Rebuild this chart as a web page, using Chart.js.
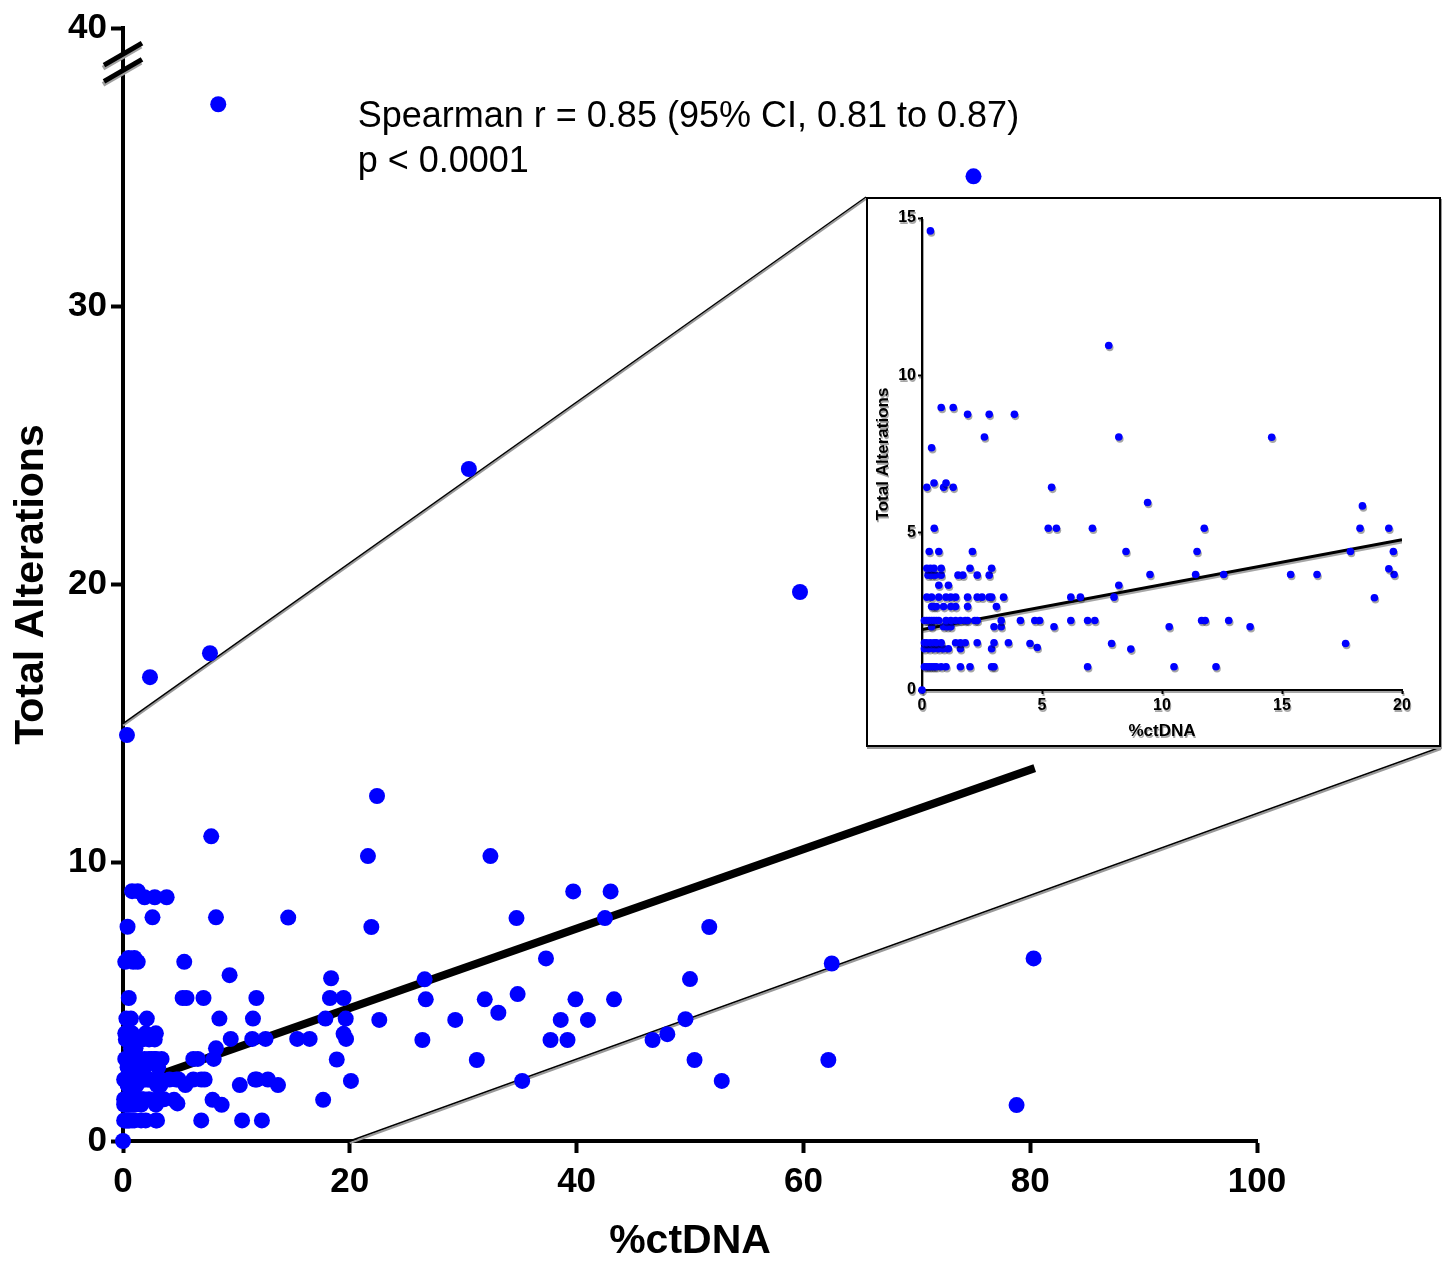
<!DOCTYPE html>
<html>
<head>
<meta charset="utf-8">
<script src="https://cdn.jsdelivr.net/npm/chart.js@4.4.1/dist/chart.umd.min.js"></script>
<style>
  body { margin: 0; background: #fff; }
  #wrap { position: relative; width: 1450px; height: 1262px; }
  #main { position: absolute; left: 0; top: 0; }
  #zoomBox {
    position: absolute; left: 866px; top: 197px; width: 575px; height: 550px;
    box-sizing: border-box; border: 2px solid #000; box-shadow: 1px 2px 0 #9a9a9a; background: #fff;
  }
  #inset { display: block; }
</style>
</head>
<body>
<div id="wrap">
  <canvas id="main" width="1450" height="1262"></canvas>
  <div id="zoomBox"><canvas id="inset" width="571" height="546"></canvas></div>
</div>
<script>
// points that fall inside the zoomed window (0-20 %ctDNA, 0-15 alterations)
const zoomX = [
  0,
  0.1, 0.2, 0.3, 0.4, 0.5, 0.6, 0.8, 1.0, 1.6, 2.0, 2.9, 3.0, 6.9, 10.5, 12.25,
  0.1, 0.3, 0.5, 0.7, 0.9, 1.1, 1.6, 2.9, 4.8, 8.7,
  0.1, 0.2, 0.35, 0.5, 0.6, 0.8, 1.4, 1.6, 1.8, 2.3, 3.0, 3.6, 4.5, 7.9, 17.65,
  0.4, 0.9, 1.05, 1.2, 3.0, 3.3, 5.5, 10.3, 13.67,
  0.1, 0.2, 0.3, 0.4, 0.5, 0.6, 0.7, 1.0, 1.2, 1.4, 1.6, 1.8, 1.9, 2.2, 2.3, 3.3, 4.1, 4.7, 4.9, 6.2, 6.9, 7.2, 11.65, 11.8, 12.78,
  0.4, 0.5, 0.6, 0.9, 1.2, 1.4, 1.9, 3.1,
  0.2, 0.4, 0.7, 1.0, 1.2, 1.4, 1.9, 2.3, 2.5, 2.8, 2.9, 3.4, 6.2, 6.6, 8.0, 18.85,
  0.7, 1.1, 8.2,
  0.25, 0.4, 0.55, 0.8, 1.5, 1.7, 2.3, 2.8, 9.5, 11.4, 12.57, 15.36, 16.46, 19.67,
  0.2, 0.35, 0.5, 0.8, 2.0, 2.9, 19.45,
  0.3, 0.7, 2.1, 8.5, 11.46, 17.85, 19.64,
  0.51, 5.26, 5.6, 7.1, 11.76, 18.25, 19.45,
  18.35, 9.4,
  0.2, 0.9, 1.3, 5.4,
  0.5, 1.0,
  0.4,
  2.6, 8.2, 14.57,
  1.9, 2.8, 3.85,
  0.8, 1.3,
  7.78,
  0.35
];
const zoomY = [
  0,
  0.74, 0.74, 0.74, 0.74, 0.74, 0.74, 0.74, 0.74, 0.74, 0.74, 0.74, 0.74, 0.74, 0.74, 0.74,
  1.31, 1.31, 1.31, 1.31, 1.31, 1.31, 1.31, 1.31, 1.35, 1.3,
  1.5, 1.5, 1.5, 1.5, 1.5, 1.5, 1.5, 1.5, 1.5, 1.5, 1.5, 1.5, 1.48, 1.48, 1.48,
  2.01, 2.01, 2.01, 2.01, 2.01, 2.01, 2.01, 2.01, 2.01,
  2.21, 2.21, 2.21, 2.21, 2.21, 2.21, 2.21, 2.21, 2.21, 2.21, 2.21, 2.21, 2.21, 2.21, 2.21, 2.21, 2.21, 2.21, 2.21, 2.21, 2.21, 2.21, 2.21, 2.21, 2.21,
  2.65, 2.65, 2.65, 2.65, 2.65, 2.65, 2.65, 2.65,
  2.95, 2.95, 2.95, 2.95, 2.95, 2.95, 2.95, 2.95, 2.95, 2.95, 2.95, 2.95, 2.95, 2.95, 2.95, 2.93,
  3.33, 3.33, 3.33,
  3.65, 3.65, 3.65, 3.65, 3.65, 3.65, 3.65, 3.65, 3.67, 3.67, 3.67, 3.67, 3.67, 3.67,
  3.87, 3.87, 3.87, 3.87, 3.87, 3.87, 3.85,
  4.4, 4.4, 4.4, 4.4, 4.4, 4.4, 4.4,
  5.14, 5.14, 5.14, 5.14, 5.14, 5.14, 5.14,
  5.85, 5.96,
  6.44, 6.44, 6.44, 6.44,
  6.58, 6.58,
  7.7,
  8.04, 8.04, 8.03,
  8.76, 8.76, 8.76,
  8.98, 8.98,
  10.95,
  14.59
];

// points only visible on the full-range plot
const restX = [8.4, 75.0, 30.5, 59.7, 7.67, 2.38, 22.4, 21.6, 32.4, 39.7, 43.0, 34.7, 42.5, 21.9, 51.7,
  37.3, 80.3, 62.5, 26.6, 50.0, 26.7, 31.9, 34.8, 39.9, 43.3, 22.6, 29.3, 33.1, 38.6, 41.0, 49.6,
  26.4, 37.7, 39.2, 46.7, 48.0, 31.2, 50.4, 62.2, 35.2, 20.1, 52.8, 78.8];
const restY = [37.26, 34.67, 24.15, 19.73, 17.53, 16.67, 12.4, 10.24, 10.24, 8.97, 8.97, 8.01, 8.01, 7.69, 7.69,
  6.56, 6.56, 6.38, 5.81, 5.82, 5.09, 5.09, 5.28, 5.09, 5.09, 4.35, 4.35, 4.61, 4.35, 4.35, 4.38,
  3.63, 3.63, 3.63, 3.63, 3.84, 2.91, 2.91, 2.91, 2.16, 2.16, 2.16, 1.29];

// fitted line
const fitIntercept = 1.92;
const fitSlope = 0.1428;
const fitEndMain = 80.4;

const mainXTicks = [0, 20, 40, 60, 80, 100];
const mainYTicks = [0, 10, 20, 30, 40];
const zoomXMax = 20, zoomYMax = 15;
const breakValues = [39.06, 38.48];
const statLines = ['Spearman r = 0.85 (95% CI, 0.81 to 0.87)', 'p < 0.0001'];

const FONT = "'Liberation Sans', Arial, Helvetica, sans-serif";
const BLUE = '#0000ff';

function toPoints(xs, ys) {
  return xs.map((x, i) => ({ x: x, y: ys[i] }));
}
function fitLine(x0, x1) {
  return [{ x: x0, y: fitIntercept + fitSlope * x0 }, { x: x1, y: fitIntercept + fitSlope * x1 }];
}

const zoomPts = toPoints(zoomX, zoomY);
const allPts = zoomPts.concat(toPoints(restX, restY));
const insetPts = allPts.filter(p => p.x <= zoomXMax && p.y <= zoomYMax);

// lines from the zoomed window on the main plot out to the inset box
const zoomLinks = {
  id: 'zoomLinks',
  beforeDatasetsDraw(chart) {
    const { ctx, scales: { x, y } } = chart;
    const box = document.getElementById('zoomBox');
    const bx = box.offsetLeft, by = box.offsetTop, bw = box.offsetWidth, bh = box.offsetHeight;
    const segs = [
      [x.getPixelForValue(0), y.getPixelForValue(zoomYMax), bx, by],
      [x.getPixelForValue(zoomXMax), y.getPixelForValue(0), bx + bw, by + bh]
    ];
    ctx.save();
    segs.forEach(s => {
      ctx.strokeStyle = '#999';
      ctx.lineWidth = 2;
      ctx.beginPath(); ctx.moveTo(s[0], s[1] + 2); ctx.lineTo(s[2], s[3] + 2); ctx.stroke();
      ctx.strokeStyle = '#000';
      ctx.lineWidth = 1.5;
      ctx.beginPath(); ctx.moveTo(s[0], s[1]); ctx.lineTo(s[2], s[3]); ctx.stroke();
    });
    ctx.restore();
  }
};

// the "//" break marks on the y axis
const axisBreak = {
  id: 'axisBreak',
  afterDraw(chart) {
    const { ctx, scales: { x, y } } = chart;
    const cx = x.getPixelForValue(0);
    ctx.save();
    ctx.lineWidth = 5;
    breakValues.forEach(v => {
      const cy = y.getPixelForValue(v);
      ctx.strokeStyle = '#a0a0a0';
      ctx.beginPath(); ctx.moveTo(cx - 20, cy + 14); ctx.lineTo(cx + 18, cy - 8); ctx.stroke();
      ctx.strokeStyle = '#000';
      ctx.beginPath(); ctx.moveTo(cx - 19, cy + 11); ctx.lineTo(cx + 19, cy - 11); ctx.stroke();
    });
    ctx.restore();
  }
};

const statsNote = {
  id: 'statsNote',
  afterDraw(chart) {
    const { ctx, scales: { x, y } } = chart;
    const tx = x.getPixelForValue(20.7);
    const ty = y.getPixelForValue(36.8);
    ctx.save();
    ctx.fillStyle = '#000';
    ctx.font = '36px ' + FONT;
    ctx.textAlign = 'left';
    ctx.textBaseline = 'middle';
    statLines.forEach((t, i) => ctx.fillText(t, tx, ty + i * 45));
    ctx.restore();
  }
};

new Chart(document.getElementById('main'), {
  type: 'scatter',
  data: {
    datasets: [
      { data: allPts, backgroundColor: BLUE, borderWidth: 0, pointRadius: 8, clip: false, order: 0 },
      { type: 'line', data: fitLine(0, fitEndMain), borderColor: '#000', borderWidth: 8,
        pointRadius: 0, fill: false, order: 1 }
    ]
  },
  options: {
    responsive: false,
    animation: false,
    events: [],
    layout: { padding: { top: 28, right: 193, left: 0, bottom: 0 } },
    plugins: { legend: { display: false }, tooltip: { enabled: false } },
    scales: {
      x: {
        type: 'linear', min: 0, max: 100,
        afterBuildTicks: s => { s.ticks = mainXTicks.map(v => ({ value: v })); },
        ticks: { color: '#000', padding: 8, font: { family: FONT, size: 35, weight: 'bold' } },
        grid: { drawOnChartArea: false, tickLength: 12, tickWidth: 4, color: '#000' },
        border: { width: 4, color: '#000' },
        title: { display: true, text: '%ctDNA', color: '#000', padding: 0,
          font: { family: FONT, size: 41, weight: 'bold', lineHeight: 1 } },
        afterFit: s => { s.height = 121; }
      },
      y: {
        type: 'linear', min: 0, max: 40,
        afterBuildTicks: s => { s.ticks = mainYTicks.map(v => ({ value: v })); },
        ticks: { color: '#000', padding: 4, font: { family: FONT, size: 35, weight: 'bold' } },
        grid: { drawOnChartArea: false, tickLength: 12, tickWidth: 4, color: '#000' },
        border: { width: 4, color: '#000' },
        title: { display: true, text: 'Total Alterations', color: '#000', padding: { top: 11 },
          font: { family: FONT, size: 41, weight: 'bold', lineHeight: 1 } },
        afterFit: s => { s.width = 123; }
      }
    }
  },
  plugins: [zoomLinks, axisBreak, statsNote]
});

// inset: everything drawn with a small grey drop shadow
const dropShadow = {
  id: 'dropShadow',
  beforeDraw(chart) {
    const c = chart.ctx;
    c.shadowColor = 'rgba(0,0,0,0.35)';
    c.shadowOffsetX = 1;
    c.shadowOffsetY = 2;
    c.shadowBlur = 0;
  },
  afterDraw(chart) { chart.ctx.shadowColor = 'transparent'; }
};

new Chart(document.getElementById('inset'), {
  type: 'scatter',
  data: {
    datasets: [
      { data: insetPts, backgroundColor: BLUE, borderWidth: 0, pointRadius: 3.8, clip: false, order: 0 },
      { type: 'line', data: fitLine(0, zoomXMax), borderColor: '#000', borderWidth: 3,
        pointRadius: 0, fill: false, order: 1 }
    ]
  },
  options: {
    responsive: false,
    animation: false,
    events: [],
    layout: { padding: { top: 19, right: 37, left: 0, bottom: 0 } },
    plugins: { legend: { display: false }, tooltip: { enabled: false } },
    scales: {
      x: {
        type: 'linear', min: 0, max: zoomXMax,
        ticks: { stepSize: 5, color: '#000', padding: 2, font: { family: FONT, size: 16, weight: 'bold' } },
        grid: { drawOnChartArea: false, tickLength: 4, tickWidth: 2, color: '#000' },
        border: { width: 2, color: '#000' },
        title: { display: true, text: '%ctDNA', color: '#000', padding: { bottom: 3 },
          font: { family: FONT, size: 17, weight: 'bold' } },
        afterFit: s => { s.height = 55; }
      },
      y: {
        type: 'linear', min: 0, max: zoomYMax,
        ticks: { stepSize: 5, color: '#000', padding: 2, font: { family: FONT, size: 16, weight: 'bold' } },
        grid: { drawOnChartArea: false, tickLength: 4, tickWidth: 2, color: '#000' },
        border: { width: 2, color: '#000' },
        title: { display: true, text: 'Total Alterations', color: '#000', padding: { top: 5 },
          font: { family: FONT, size: 17, weight: 'bold' } },
        afterFit: s => { s.width = 54; }
      }
    }
  },
  plugins: [dropShadow]
});
</script>
</body>
</html>
